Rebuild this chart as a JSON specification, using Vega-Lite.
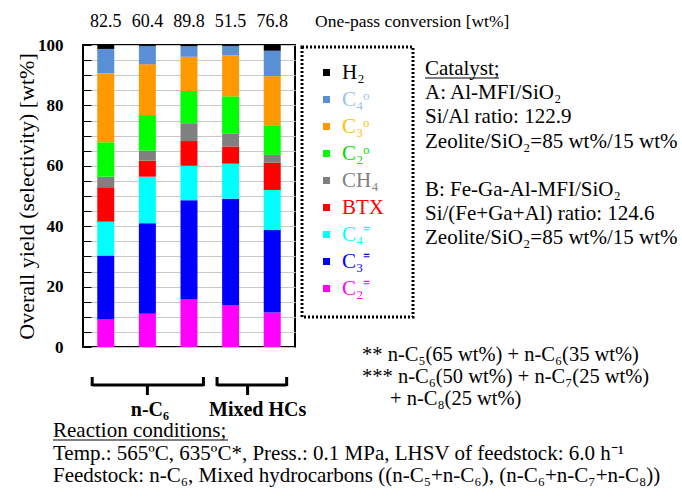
{
  "$schema": "https://vega.github.io/schema/vega-lite/v6.json",
  "usermeta": {"embedOptions": {"actions": false}},
  "width": 212,
  "height": 302,
  "autosize": {"type": "none"},
  "padding": {"left": 83, "top": 45, "right": 387, "bottom": 154},
  "background": "white",
  "config": {
    "view": {"stroke": "black", "strokeWidth": 2},
    "font": "Liberation Serif",
    "text": {"font": "Liberation Serif", "color": "black"}
  },
  "datasets": {
    "yields": [
      {"cat": "A", "comp": "C₂⁼", "val": 9.3, "k": 1},
      {"cat": "A", "comp": "C₃⁼", "val": 21.0, "k": 2},
      {"cat": "A", "comp": "C₄⁼", "val": 11.2, "k": 3},
      {"cat": "A", "comp": "BTX", "val": 11.4, "k": 4},
      {"cat": "A", "comp": "CH₄", "val": 3.5, "k": 5},
      {"cat": "A", "comp": "C₂ᵒ", "val": 11.4, "k": 6},
      {"cat": "A", "comp": "C₃ᵒ", "val": 22.8, "k": 7},
      {"cat": "A", "comp": "C₄ᵒ", "val": 8.1, "k": 8},
      {"cat": "A", "comp": "H₂", "val": 1.3, "k": 9},
      {"cat": "B", "comp": "C₂⁼", "val": 11.0, "k": 1},
      {"cat": "B", "comp": "C₃⁼", "val": 30.0, "k": 2},
      {"cat": "B", "comp": "C₄⁼", "val": 15.4, "k": 3},
      {"cat": "B", "comp": "BTX", "val": 5.3, "k": 4},
      {"cat": "B", "comp": "CH₄", "val": 3.3, "k": 5},
      {"cat": "B", "comp": "C₂ᵒ", "val": 11.8, "k": 6},
      {"cat": "B", "comp": "C₃ᵒ", "val": 16.8, "k": 7},
      {"cat": "B", "comp": "C₄ᵒ", "val": 6.1, "k": 8},
      {"cat": "B", "comp": "H₂", "val": 0.3, "k": 9},
      {"cat": "B*", "comp": "C₂⁼", "val": 15.9, "k": 1},
      {"cat": "B*", "comp": "C₃⁼", "val": 32.7, "k": 2},
      {"cat": "B*", "comp": "C₄⁼", "val": 11.4, "k": 3},
      {"cat": "B*", "comp": "BTX", "val": 8.2, "k": 4},
      {"cat": "B*", "comp": "CH₄", "val": 5.9, "k": 5},
      {"cat": "B*", "comp": "C₂ᵒ", "val": 10.7, "k": 6},
      {"cat": "B*", "comp": "C₃ᵒ", "val": 11.3, "k": 7},
      {"cat": "B*", "comp": "C₄ᵒ", "val": 3.5, "k": 8},
      {"cat": "B*", "comp": "H₂", "val": 0.4, "k": 9},
      {"cat": "B**", "comp": "C₂⁼", "val": 13.9, "k": 1},
      {"cat": "B**", "comp": "C₃⁼", "val": 35.2, "k": 2},
      {"cat": "B**", "comp": "C₄⁼", "val": 11.6, "k": 3},
      {"cat": "B**", "comp": "BTX", "val": 5.7, "k": 4},
      {"cat": "B**", "comp": "CH₄", "val": 4.2, "k": 5},
      {"cat": "B**", "comp": "C₂ᵒ", "val": 12.4, "k": 6},
      {"cat": "B**", "comp": "C₃ᵒ", "val": 13.6, "k": 7},
      {"cat": "B**", "comp": "C₄ᵒ", "val": 3.1, "k": 8},
      {"cat": "B**", "comp": "H₂", "val": 0.3, "k": 9},
      {"cat": "B***", "comp": "C₂⁼", "val": 11.4, "k": 1},
      {"cat": "B***", "comp": "C₃⁼", "val": 27.4, "k": 2},
      {"cat": "B***", "comp": "C₄⁼", "val": 13.2, "k": 3},
      {"cat": "B***", "comp": "BTX", "val": 9.0, "k": 4},
      {"cat": "B***", "comp": "CH₄", "val": 2.6, "k": 5},
      {"cat": "B***", "comp": "C₂ᵒ", "val": 9.6, "k": 6},
      {"cat": "B***", "comp": "C₃ᵒ", "val": 16.5, "k": 7},
      {"cat": "B***", "comp": "C₄ᵒ", "val": 8.4, "k": 8},
      {"cat": "B***", "comp": "H₂", "val": 1.9, "k": 9}
    ],
    "conv": [
      {"cat": "A", "conv": 82.5},
      {"cat": "B", "conv": 60.4},
      {"cat": "B*", "conv": 89.8},
      {"cat": "B**", "conv": 51.5},
      {"cat": "B***", "conv": 76.8}
    ],
    "groups": [
      {"grp": "n-C₆", "s": "A", "e": "B*", "m": "B"},
      {"grp": "Mixed HCs", "s": "B**", "e": "B***", "m": "B**"}
    ]
  },
  "layer": [
    {
      "data": {"name": "yields"},
      "mark": {"type": "bar"},
      "encoding": {
        "x": {
          "field": "cat", "type": "nominal",
          "scale": {"domain": ["A", "B", "B*", "B**", "B***"], "paddingInner": 0.592, "paddingOuter": 0.343},
          "axis": {
            "title": null, "labelFont": "Liberation Serif", "labelFontWeight": "bold",
            "labelFontSize": 19, "labelColor": "black", "labelAngle": 0, "ticks": false,
            "domain": false, "labelPadding": 13, "labelOverlap": false
          }
        },
        "y": {
          "field": "val", "type": "quantitative", "stack": "zero",
          "scale": {"domain": [0, 100], "nice": false},
          "axis": {
            "title": "Overall yield (selectivity) [wt%]",
            "titleFont": "Liberation Serif", "titleFontSize": 22, "titleFontWeight": "normal",
            "titleColor": "black", "titleX": -57, "titleY": 151, "titleAngle": -90,
            "titleAlign": "center", "titleBaseline": "middle",
            "values": [0, 5, 10, 15, 20, 25, 30, 35, 40, 45, 50, 55, 60, 65, 70, 75, 80, 85, 90, 95, 100],
            "labelExpr": "datum.value % 20 === 0 ? datum.label : ''",
            "labelFont": "Liberation Serif", "labelFontWeight": "bold", "labelFontSize": 17,
            "labelColor": "black", "tickSize": -8, "tickColor": "black", "labelPadding": 28,
            "gridColor": "#c8c8c8", "domain": false
          }
        },
        "color": {
          "field": "comp", "type": "nominal",
          "scale": {
            "domain": ["H₂", "C₄ᵒ", "C₃ᵒ", "C₂ᵒ", "CH₄", "BTX", "C₄⁼", "C₃⁼", "C₂⁼"],
            "range": ["#000000", "#5b8fd5", "#ff9900", "#00ff00", "#808080", "#ff0000", "#00ffff", "#0000ff", "#ff00ff"]
          },
          "legend": {
            "orient": "none", "legendX": 233, "legendY": 17, "title": null,
            "symbolType": "square", "symbolSize": 49, "symbolStrokeWidth": 0,
            "labelFont": "Liberation Serif", "labelFontSize": 21, "labelOffset": 5,
            "rowPadding": 5, "padding": 0, "labelLimit": 200,
            "encode": {
              "labels": {"update": {"fill": {"signal": "datum.label === 'C₄ᵒ' ? '#9dc3e6' : datum.label === 'C₃ᵒ' ? '#ffc000' : datum.label === 'C₂ᵒ' ? '#00dd00' : scale('color', datum.value)"}}},
              "symbols": {"update": {"fill": {"signal": "datum.label === 'C₄ᵒ' ? '#9dc3e6' : datum.label === 'C₃ᵒ' ? '#ffc000' : scale('color', datum.value)"}}}
            }
          }
        },
        "order": {"field": "k", "type": "quantitative"}
      }
    },
    {
      "data": {"name": "conv"},
      "mark": {"type": "text", "font": "Liberation Serif", "fontSize": 18, "align": "center", "baseline": "alphabetic"},
      "encoding": {
        "x": {"field": "cat", "type": "nominal", "axis": null},
        "y": {"value": -18},
        "text": {"field": "conv", "type": "quantitative", "format": ".1f"}
      }
    },
    {
      "data": {"values": [{}]},
      "layer": [
        {
          "mark": {"type": "text", "font": "Liberation Serif", "fontSize": 17.5, "align": "left", "baseline": "alphabetic"},
          "encoding": {"x": {"value": 232}, "y": {"value": -18}, "text": {"value": "One-pass conversion [wt%]"}}
        },
        {
          "mark": {"type": "rect", "fill": null, "stroke": "black", "strokeWidth": 3, "strokeDash": [2, 2]},
          "encoding": {"x": {"value": 219}, "x2": {"value": 330}, "y": {"value": 2}, "y2": {"value": 272}}
        },
        {
          "mark": {"type": "text", "font": "Liberation Serif", "fontSize": 21, "align": "left", "baseline": "alphabetic", "lineHeight": 24.2},
          "encoding": {
            "x": {"value": 342}, "y": {"value": 30},
            "text": {"value": ["Catalyst;", "A: Al-MFI/SiO₂", "Si/Al ratio: 122.9", "Zeolite/SiO₂=85 wt%/15 wt%"]}
          }
        },
        {
          "mark": {"type": "text", "font": "Liberation Serif", "fontSize": 21, "align": "left", "baseline": "alphabetic", "lineHeight": 24.2},
          "encoding": {
            "x": {"value": 342}, "y": {"value": 151},
            "text": {"value": ["B: Fe-Ga-Al-MFI/SiO₂", "Si/(Fe+Ga+Al) ratio: 124.6", "Zeolite/SiO₂=85 wt%/15 wt%"]}
          }
        },
        {
          "mark": {"type": "rule", "stroke": "black", "strokeWidth": 1},
          "encoding": {"x": {"value": 342}, "x2": {"value": 416}, "y": {"value": 33}}
        },
        {
          "mark": {"type": "text", "font": "Liberation Serif", "fontSize": 20.5, "align": "left", "baseline": "alphabetic", "lineHeight": 22},
          "encoding": {
            "x": {"value": 279}, "y": {"value": 316},
            "text": {"value": ["** n-C₅(65 wt%) + n-C₆(35 wt%)", "*** n-C₆(50 wt%) + n-C₇(25 wt%)"]}
          }
        },
        {
          "mark": {"type": "text", "font": "Liberation Serif", "fontSize": 20.5, "align": "left", "baseline": "alphabetic"},
          "encoding": {"x": {"value": 307}, "y": {"value": 360}, "text": {"value": "+ n-C₈(25 wt%)"}}
        },
        {
          "mark": {"type": "text", "font": "Liberation Serif", "fontSize": 21, "align": "left", "baseline": "alphabetic", "lineHeight": 22.5},
          "encoding": {
            "x": {"value": -30}, "y": {"value": 392},
            "text": {"value": ["Reaction conditions;", "Temp.: 565ºC, 635ºC*, Press.: 0.1 MPa, LHSV of feedstock: 6.0 h⁻¹", "Feedstock: n-C₆, Mixed hydrocarbons ((n-C₅+n-C₆), (n-C₆+n-C₇+n-C₈))"]}
          }
        },
        {
          "mark": {"type": "rule", "stroke": "black", "strokeWidth": 1},
          "encoding": {"x": {"value": -30}, "x2": {"value": 145}, "y": {"value": 395}}
        }
      ]
    },
    {
      "data": {"name": "groups"},
      "layer": [
        {
          "mark": {"type": "rule", "stroke": "black", "strokeWidth": 3},
          "encoding": {
            "x": {"field": "s", "type": "nominal", "bandPosition": -0.3, "axis": null},
            "x2": {"field": "e", "bandPosition": 1.35},
            "y": {"value": 340}
          }
        },
        {
          "mark": {"type": "rule", "stroke": "black", "strokeWidth": 3},
          "encoding": {
            "x": {"field": "s", "type": "nominal", "bandPosition": -0.3, "axis": null},
            "y": {"value": 332}, "y2": {"value": 341}
          }
        },
        {
          "mark": {"type": "rule", "stroke": "black", "strokeWidth": 3},
          "encoding": {
            "x": {"field": "e", "type": "nominal", "bandPosition": 1.35, "axis": null},
            "y": {"value": 332}, "y2": {"value": 341}
          }
        }
      ]
    },
    {
      "data": {"name": "groups"},
      "transform": [{"filter": "datum.grp === 'n-C₆'"}],
      "layer": [
        {
          "mark": {"type": "rule", "stroke": "black", "strokeWidth": 3},
          "encoding": {
            "x": {"field": "m", "type": "nominal", "bandPosition": 0.5, "axis": null},
            "y": {"value": 340}, "y2": {"value": 350}
          }
        },
        {
          "mark": {"type": "text", "font": "Liberation Serif", "fontSize": 20, "fontWeight": "bold", "align": "center", "baseline": "alphabetic"},
          "encoding": {
            "x": {"field": "m", "type": "nominal", "bandPosition": 0.65, "axis": null},
            "y": {"value": 371},
            "text": {"field": "grp"}
          }
        }
      ]
    },
    {
      "data": {"name": "groups"},
      "transform": [{"filter": "datum.grp === 'Mixed HCs'"}],
      "layer": [
        {
          "mark": {"type": "rule", "stroke": "black", "strokeWidth": 3},
          "encoding": {
            "x": {"field": "m", "type": "nominal", "bandPosition": 1.5, "axis": null},
            "y": {"value": 340}, "y2": {"value": 350}
          }
        },
        {
          "mark": {"type": "text", "font": "Liberation Serif", "fontSize": 20, "fontWeight": "bold", "align": "center", "baseline": "alphabetic"},
          "encoding": {
            "x": {"field": "m", "type": "nominal", "bandPosition": 2.09, "axis": null},
            "y": {"value": 371},
            "text": {"field": "grp"}
          }
        }
      ]
    }
  ]
}
